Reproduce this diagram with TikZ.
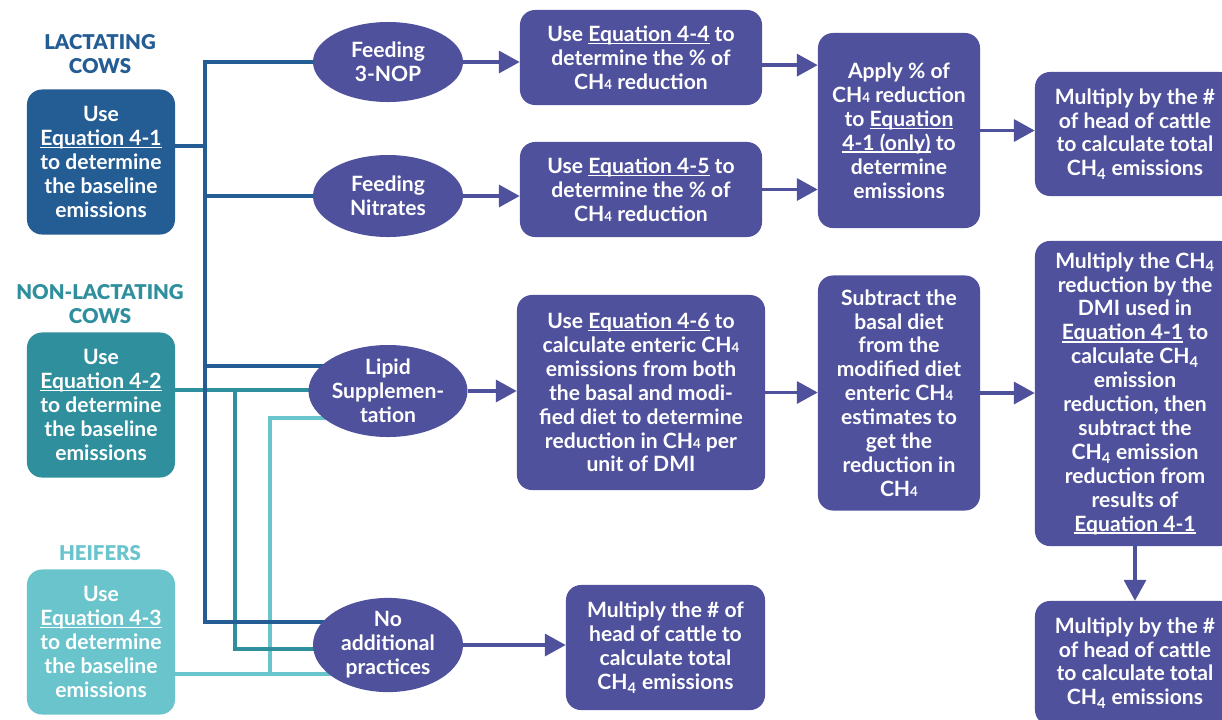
\documentclass[tikz,border=0pt]{standalone}
\usepackage{fontspec}
\setmainfont{Lato}
\newfontfamily\headfont{Lato Black}
\usetikzlibrary{shapes.geometric,arrows.meta,backgrounds}
\definecolor{lactblue}{HTML}{245C94}
\definecolor{dryteal}{HTML}{2F8F9D}
\definecolor{heiferteal}{HTML}{6AC4CB}
\definecolor{stepviolet}{HTML}{4F519C}
\newlength{\ulwidth}
\tikzset{
	% boxes for the cattle groups, the practices and the steps
	cow box/.style={rectangle,rounded corners=0.375cm,fill=#1,text=white,align=center,inner sep=0},
	practice/.style={ellipse,fill=stepviolet,text=white,align=center,inner sep=0,minimum width=3.75cm},
	step box/.style={rectangle,rounded corners=0.375cm,fill=stepviolet,text=white,align=center,inner sep=0},
	head/.style={text=#1,align=center,font=\fontsize{14.5}{17.5}\selectfont\headfont},
	% connectors
	flow/.style={draw=stepviolet,line width=2.3pt,-{Triangle[length=0.52cm,width=0.55cm]}},
	link/.style={draw=#1,line width=2.5pt}
}

\begin{document}
\begin{tikzpicture}[x=0.025cm,y=-0.025cm,font=\fontsize{15}{17}\selectfont\bfseries]
	% macros for the underlined links and methane
	\newcommand{\ulined}[1]{\settowidth{\ulwidth}{#1}\rlap{\rule[-0.13em]{\ulwidth}{0.07em}}#1}
	\newcommand{\eqlink}[1]{\ulined{Equation #1}}
	\newcommand{\methane}{CH{\fontsize{9.5}{9.5}\selectfont 4}}
	\newcommand{\methanesub}{CH\textsubscript{4}}
	\useasboundingbox (0,0) rectangle (1222,719);
	
	% cattle groups
	\node[head=lactblue] (h1) at (100,54) {LACTATING\\COWS};
	\node[head=dryteal] (h2) at (100,304) {NON-LACTATING\\COWS};
	\node[head=heiferteal] (h3) at (100,553) {HEIFERS};
	\node[cow box=lactblue,minimum width=3.7cm,minimum height=3.625cm] (b1) at (101,162) {Use\\\eqlink{4-1}\\to determine\\the baseline\\emissions};
	\node[cow box=dryteal,minimum width=3.7cm,minimum height=3.625cm] (b2) at (101,405) {Use\\\eqlink{4-2}\\to determine\\the baseline\\emissions};
	\node[cow box=heiferteal,minimum width=3.7cm,minimum height=3.625cm] (b3) at (101,642) {Use\\\eqlink{4-3}\\to determine\\the baseline\\emissions};
	
	% practices
	\node[practice,minimum height=2cm] (nop) at (388,62) {Feeding\\3-NOP};
	\node[practice,minimum height=2.05cm] (nit) at (388,196) {Feeding\\Nitrates};
	\node[practice,minimum height=2.3cm] (lip) at (388,391) {Lipid\\Supplemen-\\tation};
	\node[practice,minimum height=2.25cm] (noadd) at (388,645) {No\\additional\\practices};
	
	% steps
	\node[step box,minimum width=6.05cm,minimum height=2.375cm] (eq44) at (641,57.5) {Use \eqlink{4-4} to\\determine the \% of\\\methane{} reduction};
	\node[step box,minimum width=6.05cm,minimum height=2.375cm] (eq45) at (641,189.5) {Use \eqlink{4-5} to\\determine the \% of\\\methane{} reduction};
	\node[step box,minimum width=4.05cm,minimum height=4.875cm] (apply) at (899,130.5) {Apply \% of\\\methane{} reduction\\to \ulined{Equation}\\\ulined{4-1 (only)} to\\determine\\emissions};
	\node[step box,minimum width=5cm,minimum height=3.1cm] (mult1) at (1135,134) {Multiply by the \#\\of head of cattle\\to calculate total\\\methanesub{} emissions};
	\node[step box,minimum width=6.2cm,minimum height=4.875cm] (eq46) at (641,392.5) {Use \eqlink{4-6} to\\calculate enteric \methane\\emissions from both\\the basal and modi-\\fied diet to determine\\reduction in \methane{} per\\unit of DMI};
	\node[step box,minimum width=4.05cm,minimum height=5.875cm] (sub) at (899,393) {Subtract the\\basal diet\\from the\\modified diet\\enteric \methane\\estimates to\\get the\\reduction in\\\methane};
	\node[step box,minimum width=5cm,minimum height=7.625cm] (mch4) at (1135,393.5) {Multiply the \methanesub\\reduction by the\\DMI used in\\\eqlink{4-1} to\\calculate \methanesub\\emission\\reduction, then\\subtract the\\\methanesub{} emission\\reduction from\\results of\\\eqlink{4-1}};
	\node[step box,minimum width=5cm,minimum height=3.1cm] (mult3) at (1135,663) {Multiply by the \#\\of head of cattle\\to calculate total\\\methanesub{} emissions};
	\node[step box,minimum width=4.975cm,minimum height=3.125cm] (mult2) at (665.5,647.5) {Multiply the \# of\\head of cattle to\\calculate total\\\methanesub{} emissions};
	
	% lines from the cattle groups to the practices
	\begin{scope}[on background layer]
		\coordinate (lt) at (205,62);
		\coordinate (lm) at (205,146);
		\coordinate (ll) at (205,366);
		\coordinate (lb) at (205,622);
		\coordinate (dm) at (235,390);
		\coordinate (db) at (235,649);
		\coordinate (hm) at (270,418);
		\coordinate (hb) at (270,674);
		\draw[link=heiferteal] (b3.east |- hb) -- (noadd.center |- hb);
		\draw[link=heiferteal] (hb) -- (hm) -- (lip.center |- hm);
		\draw[link=dryteal] (b2.east |- dm) -- (lip.center |- dm);
		\draw[link=dryteal] (dm) -- (db) -- (noadd.center |- db);
		\draw[link=lactblue] (b1.east |- lm) -- (lm);
		\draw[link=lactblue] (nop.center) -- (lt) -- (lb) -- (noadd.center |- lb);
		\draw[link=lactblue] (nit.center) -- (nit.center -| lt);
		\draw[link=lactblue] (ll) -- (lip.center |- ll);
	\end{scope}
	
	% arrows between the steps
	\draw[flow] (nop.east) -- (nop.east -| eq44.west);
	\draw[flow] (nit.east) -- (nit.east -| eq45.west);
	\draw[flow] ([yshift=-0.19cm]eq44.east) -- ([yshift=-0.19cm]eq44.east -| apply.west);
	\draw[flow] (eq45.east) -- (eq45.east -| apply.west);
	\draw[flow] (apply.east) -- (apply.east -| mult1.west);
	\draw[flow] (lip.east) -- (lip.east -| eq46.west);
	\draw[flow] (eq46.east) -- (eq46.east -| sub.west);
	\draw[flow] (sub.east) -- (sub.east -| mch4.west);
	\draw[flow] (mch4.south) -- (mch4.south |- mult3.north);
	\draw[flow] (noadd.east) -- (noadd.east -| mult2.west);
\end{tikzpicture}
\end{document}
